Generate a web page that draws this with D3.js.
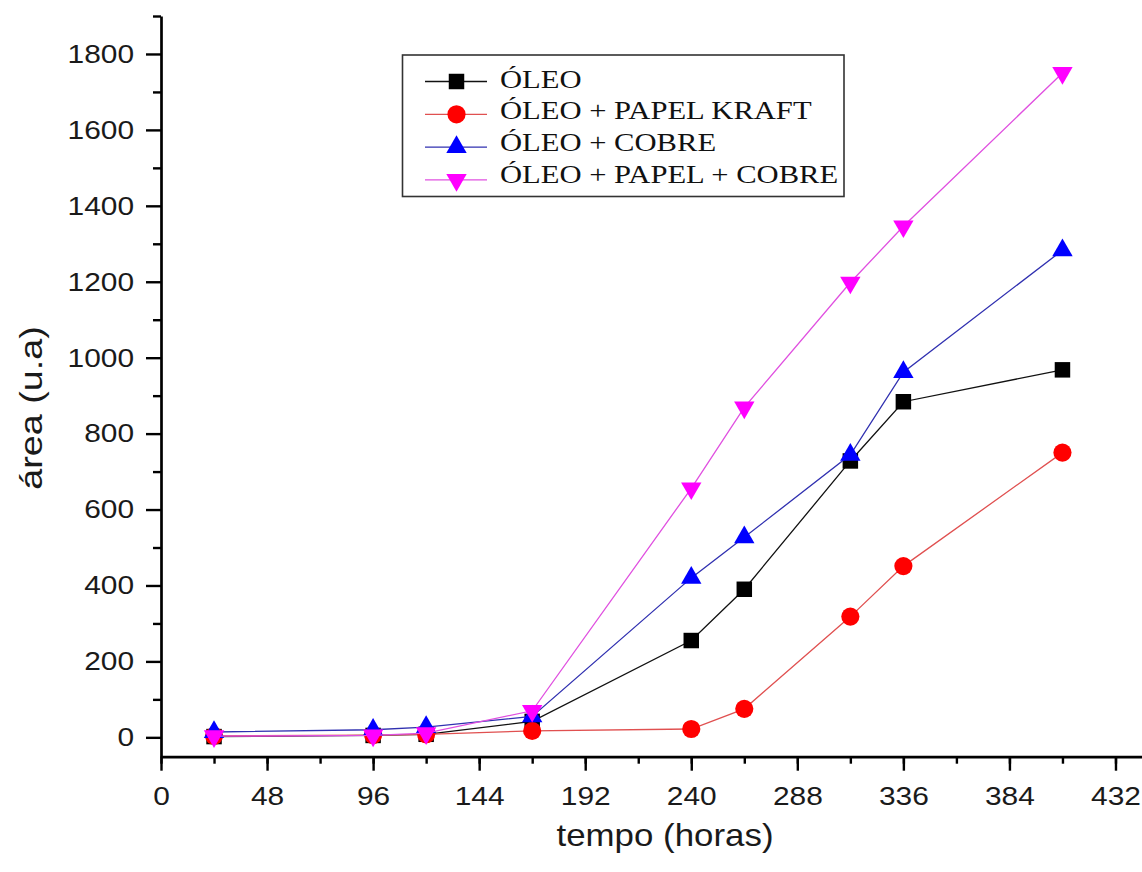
<!DOCTYPE html>
<html>
<head>
<meta charset="utf-8">
<script src="https://cdn.jsdelivr.net/npm/d3@7"></script>
<style>
  body { margin: 0; background: #fff; }
  svg { display: block; }
</style>
</head>
<body>
<svg id="chart" width="1142" height="872"></svg>
<script>
// data (tempo in hours, area in u.a)
var hours = [24, 96, 120, 168, 240, 264, 312, 336, 408];
var oleo = [2, 5, 8, 42, 255, 390, 728, 884, 968];
var oleoKraft = [4, 6, 8, 17, 22, 75, 318, 451, 750];
var oleoCobre = [14, 20, 27, 55, 420, 527, 744, 962, 1283];
var oleoPapelCobre = [3, 5, 11, 70, 656, 869, 1198, 1346, 1750];

var seriesNames = ["ÓLEO", "ÓLEO + PAPEL KRAFT", "ÓLEO + COBRE", "ÓLEO + PAPEL + COBRE"];
var xTickValues = [0, 48, 96, 144, 192, 240, 288, 336, 384, 432];
var yTickValues = [0, 200, 400, 600, 800, 1000, 1200, 1400, 1600, 1800];

var series = [
  { name: seriesNames[0], values: oleo, color: "#000000", line: "#111111", shape: "square" },
  { name: seriesNames[1], values: oleoKraft, color: "#ff0000", line: "#e05050", shape: "circle" },
  { name: seriesNames[2], values: oleoCobre, color: "#0000ff", line: "#3030b0", shape: "up" },
  { name: seriesNames[3], values: oleoPapelCobre, color: "#ff00ff", line: "#e050e0", shape: "down" }
];

var svg = d3.select("#chart");

var x = d3.scaleLinear().domain([0, 444]).range([161, 1142]);
var y = d3.scaleLinear().domain([-51, 1900]).range([756.7, 16]);

var tickFont = "'Liberation Sans', Arial, sans-serif";
var sxTick = 1.15;

//x axis, minor ticks first then major with labels
svg.append("g")
  .attr("transform", "translate(0," + y.range()[0] + ")")
  .call(d3.axisBottom(x).tickValues(d3.range(0, 433, 24)).tickSize(7).tickSizeOuter(0).tickFormat(""))
  .call(function (g) { g.select(".domain").remove(); });

var xAxis = svg.append("g")
  .attr("transform", "translate(0," + y.range()[0] + ")")
  .call(d3.axisBottom(x).tickValues(xTickValues).tickSize(14).tickSizeOuter(0).tickPadding(16).tickFormat(d3.format("d")));

xAxis.selectAll("text")
  .attr("font-family", tickFont)
  .attr("font-size", 26)
  .attr("fill", "#1a1a1a")
  .attr("transform", "scale(" + sxTick + ",1)");

//y axis
svg.append("g")
  .attr("transform", "translate(" + x.range()[0] + ",0)")
  .call(d3.axisLeft(y).tickValues(d3.range(100, 1901, 200)).tickSize(8).tickSizeOuter(0).tickFormat(""))
  .call(function (g) { g.select(".domain").remove(); });

var yAxis = svg.append("g")
  .attr("transform", "translate(" + x.range()[0] + ",0)")
  .call(d3.axisLeft(y).tickValues(yTickValues).tickSize(15).tickSizeOuter(0).tickFormat(d3.format("d")));

yAxis.selectAll("text")
  .attr("x", -27 / sxTick)
  .attr("font-family", tickFont)
  .attr("font-size", 26)
  .attr("fill", "#1a1a1a")
  .attr("transform", "scale(" + sxTick + ",1)");

svg.selectAll(".domain").attr("stroke", "#000").attr("stroke-width", 2.7);
svg.selectAll(".tick line").attr("stroke", "#000").attr("stroke-width", 2.4);

//axis titles
svg.append("text")
  .attr("transform", "translate(665,846) scale(1.09,1)")
  .attr("text-anchor", "middle")
  .attr("font-family", tickFont)
  .attr("font-size", 32)
  .attr("fill", "#1a1a1a")
  .text("tempo (horas)");

svg.append("text")
  .attr("transform", "translate(42,408) rotate(-90) scale(1.18,1)")
  .attr("text-anchor", "middle")
  .attr("font-family", tickFont)
  .attr("font-size", 32)
  .attr("fill", "#1a1a1a")
  .text("área (u.a)");

//marker shapes
function marker(shape) {
  if (shape == "square") return d3.symbol().type(d3.symbolSquare).size(240)();
  if (shape == "circle") return d3.symbol().type(d3.symbolCircle).size(260)();
  return d3.symbol().type(d3.symbolTriangle).size(180)();
}
function markerTransform(shape, px, py) {
  if (shape == "down") return "translate(" + px + "," + py + ") rotate(180)";
  return "translate(" + px + "," + py + ")";
}

var line = d3.line()
  .x(function (d) { return x(d.h); })
  .y(function (d) { return y(d.v); });

series.forEach(function (s) {
  var pts = hours.map(function (h, i) { return { h: h, v: s.values[i] }; });

  svg.append("path")
    .datum(pts)
    .attr("d", line)
    .attr("fill", "none")
    .attr("stroke", s.line)
    .attr("stroke-width", 1.3);

  svg.append("g")
    .selectAll("path")
    .data(pts)
    .enter()
    .append("path")
    .attr("d", marker(s.shape))
    .attr("transform", function (d) { return markerTransform(s.shape, x(d.h), y(d.v)); })
    .attr("fill", s.color);
});

//legend
var legend = svg.append("g");

legend.append("rect")
  .attr("x", 402.5)
  .attr("y", 55)
  .attr("width", 441.5)
  .attr("height", 141.5)
  .attr("fill", "#fff")
  .attr("stroke", "#333")
  .attr("stroke-width", 1.6);

series.forEach(function (s, i) {
  var ly = 81.5 + i * 32.8;
  legend.append("line")
    .attr("x1", 425)
    .attr("x2", 487)
    .attr("y1", ly)
    .attr("y2", ly)
    .attr("stroke", s.line)
    .attr("stroke-width", 1.3);
  legend.append("path")
    .attr("d", marker(s.shape))
    .attr("transform", markerTransform(s.shape, 456.5, ly))
    .attr("fill", s.color);
  legend.append("text")
    .attr("transform", "translate(500," + (87.5 + i * 31.8) + ") scale(1.2,1)")
    .attr("font-family", "'Liberation Serif', 'Times New Roman', serif")
    .attr("font-size", 25.5)
    .attr("fill", "#111")
    .text(s.name);
});
</script>
</body>
</html>
